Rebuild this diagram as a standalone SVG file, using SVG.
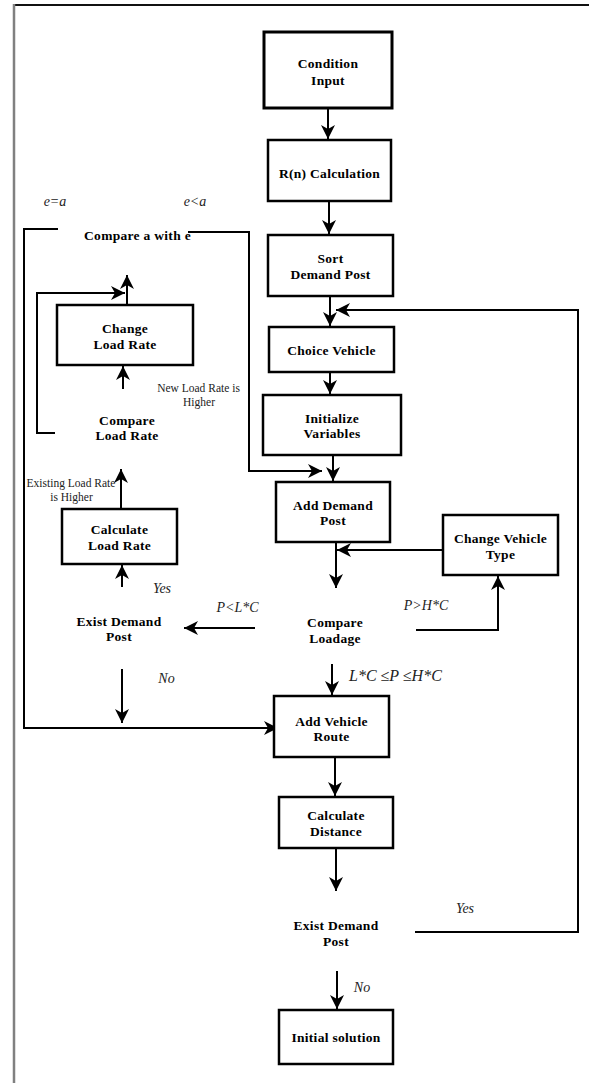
<svg xmlns="http://www.w3.org/2000/svg" width="589" height="1083" viewBox="0 0 589 1083">
<style>
.box{fill:#fff;stroke:#000;stroke-width:2.5}
.thick{stroke-width:3}
.t{font-family:"Liberation Serif","Times New Roman",serif;font-weight:bold;font-size:13.5px;text-anchor:middle;fill:#000;letter-spacing:0.3px}
.i{font-family:"Liberation Serif","Times New Roman",serif;font-style:italic;font-size:14px;fill:#222;text-anchor:middle}
.s{font-family:"Liberation Serif","Times New Roman",serif;font-size:11.5px;fill:#222;text-anchor:middle}
.c{fill:none;stroke:#000;stroke-width:2}
</style>
<defs>
<marker id="ah" viewBox="-15 -8 16 16" refX="0" refY="0" markerWidth="16" markerHeight="16" markerUnits="userSpaceOnUse" orient="auto">
<path d="M0,0 L-14,-7 L-10,0 L-14,7 Z" fill="#000"/>
</marker>
</defs>
<g id="frame">
<line x1="13" y1="5" x2="589" y2="5" stroke="#111" stroke-width="2"/>
<line x1="14" y1="4" x2="14" y2="1083" stroke="#808080" stroke-width="2.5"/>
</g>
<g id="connectors">
<line class="c" x1="328" y1="108" x2="328" y2="139" marker-end="url(#ah)"/>
<line class="c" x1="329" y1="201" x2="329" y2="234" marker-end="url(#ah)"/>
<line class="c" x1="330" y1="296" x2="330" y2="326" marker-end="url(#ah)"/>
<line class="c" x1="330" y1="372" x2="330" y2="394" marker-end="url(#ah)"/>
<line class="c" x1="333" y1="455" x2="333" y2="481" marker-end="url(#ah)"/>
<line class="c" x1="336" y1="542" x2="336" y2="588" marker-end="url(#ah)"/>
<line class="c" x1="443" y1="550" x2="337" y2="550" marker-end="url(#ah)"/>
<polyline class="c" points="416,630 498,630 498,576" marker-end="url(#ah)"/>
<line class="c" x1="255" y1="628" x2="184" y2="628" marker-end="url(#ah)"/>
<line class="c" x1="332" y1="664" x2="332" y2="695" marker-end="url(#ah)"/>
<line class="c" x1="122" y1="669" x2="122" y2="723" marker-end="url(#ah)"/>
<line class="c" x1="122" y1="587" x2="122" y2="565" marker-end="url(#ah)"/>
<line class="c" x1="121" y1="509" x2="121" y2="469" marker-end="url(#ah)"/>
<line class="c" x1="123" y1="389" x2="123" y2="366" marker-end="url(#ah)"/>
<line class="c" x1="127" y1="305" x2="127" y2="275" marker-end="url(#ah)"/>
<polyline class="c" points="55,433 37,433 37,293 125,293" marker-end="url(#ah)"/>
<polyline class="c" points="58,229 24,229 24,728 278,728" marker-end="url(#ah)"/>
<polyline class="c" points="188,232 249,232 249,471 322,471" marker-end="url(#ah)"/>
<line class="c" x1="335" y1="757" x2="335" y2="796" marker-end="url(#ah)"/>
<line class="c" x1="336" y1="848" x2="336" y2="891" marker-end="url(#ah)"/>
<line class="c" x1="337" y1="971" x2="337" y2="1009" marker-end="url(#ah)"/>
<polyline class="c" points="415,932 578,932 578,310 336,310" marker-end="url(#ah)"/>
</g>
<g id="condition-input">
<rect class="box thick" x="264" y="32" width="128" height="76"/>
<text class="t" x="328" y="67.5">Condition</text>
<text class="t" x="328" y="84.5">Input</text>
</g>
<g id="rn-calculation">
<rect class="box" x="268" y="140" width="123" height="61"/>
<text class="t" x="329.5" y="177.5">R(n) Calculation</text>
</g>
<g id="sort-demand-post">
<rect class="box" x="268" y="235" width="125" height="61"/>
<text class="t" x="330.5" y="262.5">Sort</text>
<text class="t" x="330.5" y="278.5">Demand Post</text>
</g>
<g id="choice-vehicle">
<rect class="box" x="269" y="327" width="125" height="45"/>
<text class="t" x="331.5" y="354.5">Choice Vehicle</text>
</g>
<g id="initialize-variables">
<rect class="box" x="263" y="395" width="138" height="60"/>
<text class="t" x="332" y="422.5">Initialize</text>
<text class="t" x="332" y="438">Variables</text>
</g>
<g id="add-demand-post">
<rect class="box" x="276" y="482" width="114" height="60"/>
<text class="t" x="333" y="509.5">Add Demand</text>
<text class="t" x="333" y="524.5">Post</text>
</g>
<g id="change-vehicle-type">
<rect class="box" x="443" y="515" width="115" height="60"/>
<text class="t" x="500.5" y="542.5">Change Vehicle</text>
<text class="t" x="500.5" y="558.5">Type</text>
</g>
<g id="compare-loadage">
<text class="t" x="335" y="626.5">Compare</text>
<text class="t" x="335" y="642.5">Loadage</text>
</g>
<g id="exist-demand-post-1">
<text class="t" x="119" y="625.5">Exist Demand</text>
<text class="t" x="119" y="640.5">Post</text>
</g>
<g id="add-vehicle-route">
<rect class="box" x="274" y="696" width="115" height="61"/>
<text class="t" x="331.5" y="725.5">Add Vehicle</text>
<text class="t" x="331.5" y="740.5">Route</text>
</g>
<g id="calculate-distance">
<rect class="box" x="279" y="797" width="114" height="51"/>
<text class="t" x="336" y="819.5">Calculate</text>
<text class="t" x="336" y="835.5">Distance</text>
</g>
<g id="exist-demand-post-2">
<text class="t" x="336" y="929.5">Exist Demand</text>
<text class="t" x="336" y="945.5">Post</text>
</g>
<g id="initial-solution">
<rect class="box" x="279" y="1010" width="114" height="54"/>
<text class="t" x="336" y="1041.5">Initial solution</text>
</g>
<g id="compare-a-with-e">
<text class="t" x="137.5" y="239.5">Compare a with e</text>
</g>
<g id="change-load-rate">
<rect class="box" x="57" y="305" width="136" height="60"/>
<text class="t" x="125" y="332.5">Change</text>
<text class="t" x="125" y="348.5">Load Rate</text>
</g>
<g id="compare-load-rate">
<text class="t" x="127" y="424.5">Compare</text>
<text class="t" x="127" y="439.5">Load Rate</text>
</g>
<g id="calculate-load-rate">
<rect class="box" x="62" y="509" width="115" height="55"/>
<text class="t" x="119.5" y="533.5">Calculate</text>
<text class="t" x="119.5" y="549.5">Load Rate</text>
</g>
<g id="labels">
<text class="i" x="55" y="206">e=a</text>
<text class="i" x="195" y="206">e&lt;a</text>
<text class="i" x="237.5" y="612">P&lt;L*C</text>
<text class="i" x="426" y="610">P&gt;H*C</text>
<text class="i" x="349" y="681" style="font-size:16px;text-anchor:start">L*C ≤P ≤H*C</text>
<text class="i" x="162" y="593">Yes</text>
<text class="i" x="166.5" y="683">No</text>
<text class="i" x="465" y="913">Yes</text>
<text class="i" x="362" y="992">No</text>
<text class="s" x="198.5" y="392">New Load Rate is</text>
<text class="s" x="199" y="406">Higher</text>
<text class="s" x="71" y="487">Existing Load Rate</text>
<text class="s" x="71.5" y="501">is Higher</text>
</g>
</svg>
